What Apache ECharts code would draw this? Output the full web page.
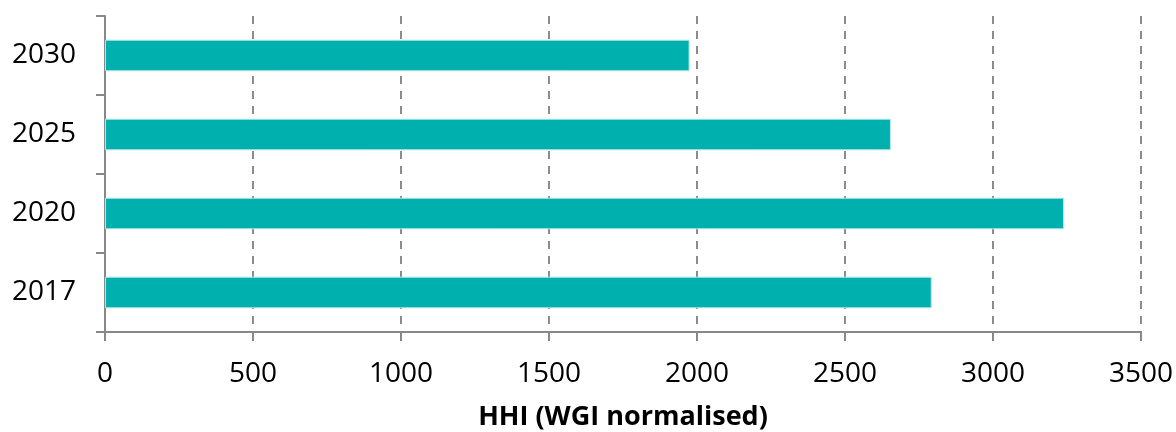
<!DOCTYPE html>
<html><head><meta charset="utf-8">
<script src="https://cdn.jsdelivr.net/npm/echarts@6/dist/echarts.min.js"></script>
<style>html,body{margin:0;padding:0;background:#fff}#c{width:1176px;height:432px}</style>
</head><body><div id="c"></div>
<script>
const categories = ['2017', '2020', '2025', '2030'];
const values = [2793, 3240, 2655, 1975];
const xTicks = {min: 0, max: 3500, interval: 500};
const axisTitle = 'HHI (WGI normalised)';

const chart = echarts.init(document.getElementById('c'), null, {renderer: 'canvas'});
chart.setOption({
  animation: false,
  grid: {left: 105, right: 35, top: 16, bottom: 100, containLabel: false, outerBoundsMode: 'none'},
  xAxis: {
    type: 'value', min: xTicks.min, max: xTicks.max, interval: xTicks.interval,
    name: axisTitle, nameLocation: 'middle', nameGap: 72,
    nameTextStyle: {fontFamily: 'Open Sans', fontWeight: 'bold', fontSize: 27, color: '#000'},
    axisLine: {show: true, lineStyle: {color: '#888', width: 2}},
    axisTick: {show: true, length: 9, lineStyle: {color: '#888', width: 2}},
    axisLabel: {fontFamily: 'Open Sans', fontSize: 28, color: '#000', margin: 28,
      formatter: v => String(v)},
    splitLine: {show: true, lineStyle: {color: '#8c8c8c', width: 2, type: [8, 7]}}
  },
  yAxis: {
    type: 'category', data: categories,
    axisLine: {show: true, lineStyle: {color: '#888', width: 2}},
    axisTick: {show: true, length: 9, lineStyle: {color: '#888', width: 2}},
    axisLabel: {fontFamily: 'Open Sans', fontSize: 28, color: '#000', margin: 29},
    splitLine: {show: false}
  },
  series: [{
    type: 'bar', data: values, barWidth: '40%',
    itemStyle: {color: '#00b0ae', borderColor: '#b8e6e4', borderWidth: 1}
  }]
});
</script></body></html>
